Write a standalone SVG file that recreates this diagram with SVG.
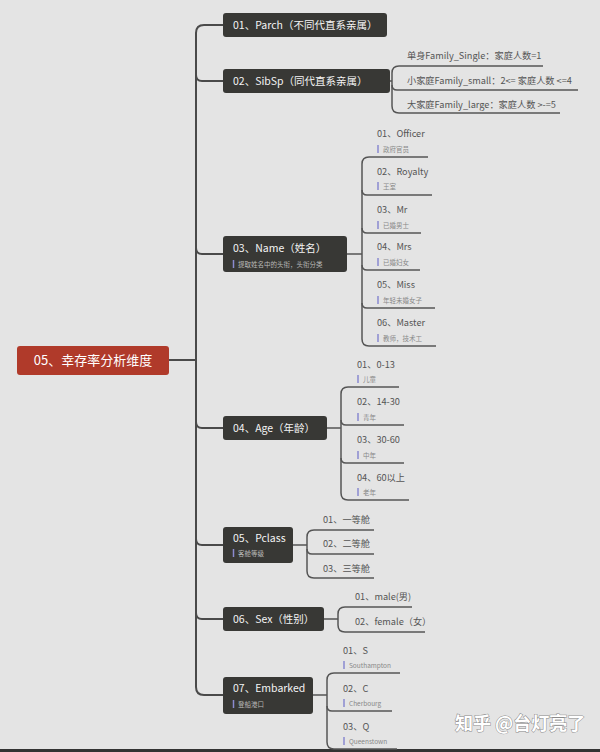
<svg xmlns="http://www.w3.org/2000/svg" width="600" height="752" viewBox="0 0 600 752">
<style>
text{font-family:"Noto Sans CJK SC","Noto Sans",sans-serif}
.node{fill:#383835}
.root{fill:#b03a2a}
.t{fill:#f4f4f4;font-size:10.5px}
.rt{fill:#fff;font-size:13px}
.ns{fill:#b8b8b8;font-size:6.5px}
.c{fill:#555;font-size:9.2px}
.s{fill:#888;font-size:6.5px}
.bar{stroke:#8a8ad0;stroke-width:1.5}
.sp{fill:none;stroke:#4a4a4a;stroke-width:2}
.ln{fill:none;stroke:#555;stroke-width:1.5}
</style>
<rect width="600" height="752" fill="#e4e4e4"/>
<rect x="0" y="749" width="600" height="3" fill="#333"/>
<g id="connectors">
<path class="sp" d="M169,360 H196"/>
<path class="sp" d="M223,25 H204 Q196,25 196,33 V687 Q196,695 204,695 H223"/>
<path class="sp" d="M196,75 Q196,81 202,81 H223"/>
<path class="sp" d="M196,248 Q196,254 202,254 H223"/>
<path class="sp" d="M196,422 Q196,428 202,428 H223"/>
<path class="sp" d="M196,539 Q196,545 202,545 H223"/>
<path class="sp" d="M196,613 Q196,619 202,619 H223"/>
<!-- SibSp -->
<path class="ln" d="M390,81 H392"/>
<path class="ln" d="M543,66 H399 Q392,66 392,73 V106 Q392,113 399,113 H560"/>
<path class="ln" d="M392,85 Q392,90 397,90 H578"/>
<!-- Name -->
<path class="ln" d="M347,254 H362"/>
<path class="ln" d="M428,157 H369 Q362,157 362,164 V339 Q362,346 369,346 H436"/>
<path class="ln" d="M362,190 Q362,195 367,195 H432"/>
<path class="ln" d="M362,228 Q362,233 367,233 H421"/>
<path class="ln" d="M362,265 Q362,270 367,270 H420"/>
<path class="ln" d="M362,303 Q362,308 367,308 H435"/>
<!-- Age -->
<path class="ln" d="M327,428 H341"/>
<path class="ln" d="M399,387 H348 Q341,387 341,394 V493 Q341,500 348,500 H409"/>
<path class="ln" d="M341,420 Q341,425 346,425 H404"/>
<path class="ln" d="M341,458 Q341,463 346,463 H404"/>
<!-- Pclass -->
<path class="ln" d="M293,545 H307"/>
<path class="ln" d="M374,530 H314 Q307,530 307,537 V571 Q307,578 314,578 H374"/>
<path class="ln" d="M307,549 Q307,554 312,554 H374"/>
<!-- Sex -->
<path class="ln" d="M324,619 H338"/>
<path class="ln" d="M412,607 H345 Q338,607 338,614 V625 Q338,632 345,632 H425"/>
<!-- Embarked -->
<path class="ln" d="M313,695 H327"/>
<path class="ln" d="M400,673 H334 Q327,673 327,680 V742 Q327,749 334,749 H397"/>
<path class="ln" d="M327,706 Q327,711 332,711 H392"/>
</g>
<g id="root"><rect class="root" x="17" y="346" width="152" height="29" rx="3"/><text class="rt" x="93" y="365" text-anchor="middle">05、幸存率分析维度</text></g>
<g id="parch"><rect class="node" x="223" y="13" width="164" height="24" rx="3"/><text class="t" x="233" y="28.5">01、Parch（不同代直系亲属）</text></g>
<g id="sibsp"><rect class="node" x="223" y="69" width="167" height="24" rx="3"/><text class="t" x="233" y="84.5">02、SibSp（同代直系亲属）</text></g>
<g id="sibsp-1"><text class="c" x="407" y="59">单身Family_Single：家庭人数=1</text></g>
<g id="sibsp-2"><text class="c" x="407" y="84">小家庭Family_small：2&lt;= 家庭人数 &lt;=4</text></g>
<g id="sibsp-3"><text class="c" x="407" y="108">大家庭Family_large：家庭人数 &gt;-=5</text></g>
<g id="name"><rect class="node" x="223" y="236" width="124" height="36" rx="3"/><text class="t" x="233" y="251.5">03、Name（姓名）</text><line class="bar" x1="233.5" y1="260" x2="233.5" y2="268"/><text class="ns" x="238" y="266.5">提取姓名中的头衔，头衔分类</text></g>
<g id="name-1"><text class="c" x="377" y="136.5">01、Officer</text><line class="bar" x1="378" y1="145" x2="378" y2="153"/><text class="s" x="383" y="151.5">政府官员</text></g>
<g id="name-2"><text class="c" x="377" y="174.5">02、Royalty</text><line class="bar" x1="378" y1="182" x2="378" y2="190"/><text class="s" x="383" y="188.5">王室</text></g>
<g id="name-3"><text class="c" x="377" y="212.5">03、Mr</text><line class="bar" x1="378" y1="221" x2="378" y2="229"/><text class="s" x="383" y="227.5">已婚男士</text></g>
<g id="name-4"><text class="c" x="377" y="249.5">04、Mrs</text><line class="bar" x1="378" y1="258" x2="378" y2="266"/><text class="s" x="383" y="264.5">已婚妇女</text></g>
<g id="name-5"><text class="c" x="377" y="287.5">05、Miss</text><line class="bar" x1="378" y1="296" x2="378" y2="304"/><text class="s" x="383" y="302.5">年轻未婚女子</text></g>
<g id="name-6"><text class="c" x="377" y="325.5">06、Master</text><line class="bar" x1="378" y1="334" x2="378" y2="342"/><text class="s" x="383" y="340.5">教师，技术工</text></g>
<g id="age"><rect class="node" x="223" y="416" width="104" height="24" rx="3"/><text class="t" x="233" y="431.5">04、Age（年龄）</text></g>
<g id="age-1"><text class="c" x="357" y="367.5">01、0-13</text><line class="bar" x1="358" y1="375" x2="358" y2="383"/><text class="s" x="363" y="381.5">儿童</text></g>
<g id="age-2"><text class="c" x="357" y="404.5">02、14-30</text><line class="bar" x1="358" y1="413" x2="358" y2="421"/><text class="s" x="363" y="419.5">青年</text></g>
<g id="age-3"><text class="c" x="357" y="442.5">03、30-60</text><line class="bar" x1="358" y1="451" x2="358" y2="459"/><text class="s" x="363" y="457.5">中年</text></g>
<g id="age-4"><text class="c" x="357" y="480.5">04、60以上</text><line class="bar" x1="358" y1="488" x2="358" y2="496"/><text class="s" x="363" y="494.5">老年</text></g>
<g id="pclass"><rect class="node" x="223" y="527" width="70" height="36" rx="3"/><text class="t" x="233" y="542">05、Pclass</text><line class="bar" x1="233.5" y1="549" x2="233.5" y2="557"/><text class="ns" x="238" y="555.5">客舱等级</text></g>
<g id="pclass-1"><text class="c" x="323" y="522.5">01、一等舱</text></g>
<g id="pclass-2"><text class="c" x="323" y="546.5">02、二等舱</text></g>
<g id="pclass-3"><text class="c" x="323" y="571.5">03、三等舱</text></g>
<g id="sex"><rect class="node" x="223" y="607" width="101" height="24" rx="3"/><text class="t" x="233" y="622.5">06、Sex（性别）</text></g>
<g id="sex-1"><text class="c" x="355" y="599.5">01、male(男)</text></g>
<g id="sex-2"><text class="c" x="355" y="624.5">02、female（女）</text></g>
<g id="embarked"><rect class="node" x="223" y="677" width="90" height="37" rx="3"/><text class="t" x="233" y="692">07、Embarked</text><line class="bar" x1="233.5" y1="700" x2="233.5" y2="708"/><text class="ns" x="238" y="706.5">登船港口</text></g>
<g id="embarked-1"><text class="c" x="343" y="653.5">01、S</text><line class="bar" x1="344" y1="661" x2="344" y2="669"/><text class="s" x="349" y="667.5">Southampton</text></g>
<g id="embarked-2"><text class="c" x="343" y="691.5">02、C</text><line class="bar" x1="344" y1="699" x2="344" y2="707"/><text class="s" x="349" y="705.5">Cherbourg</text></g>
<g id="embarked-3"><text class="c" x="343" y="729.5">03、Q</text><line class="bar" x1="344" y1="737" x2="344" y2="745"/><text class="s" x="349" y="743.5">Queenstown</text></g>
<text x="455" y="730" font-size="18" font-weight="bold" fill="#fff" stroke="#8a8a8a" stroke-width="1" paint-order="stroke">知乎 @台灯亮了</text>
</svg>
